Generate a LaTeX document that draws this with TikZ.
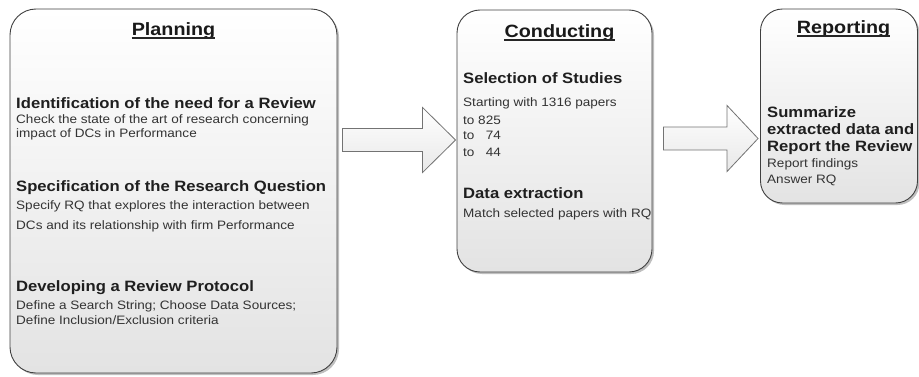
\documentclass[tikz,border=0pt]{standalone}
\usepackage{fontspec}
\setmainfont{Liberation Sans}
\newfontfamily\hf[FakeStretch=1.11]{Liberation Sans}
\usetikzlibrary{shadows,calc}

\begin{document}
\begin{tikzpicture}[x=1pt,y=1pt,
  phase/.style={draw=black!75, line width=0.9pt, rounded corners=26pt, top color=white, bottom color=black!11,
    drop shadow={shadow xshift=2pt, shadow yshift=-2pt, opacity=0.25, fill=black}, inner sep=0pt},
  ttl/.style={font=\hf\bfseries\fontsize{17.8}{20}\selectfont, inner sep=0pt, anchor=base, text=black!90},
  hd/.style={font=\hf\bfseries\fontsize{15}{17}\selectfont, inner sep=0pt, anchor=base west, text=black!88},
  bd/.style={font=\hf\fontsize{12.2}{14}\selectfont, inner sep=0pt, anchor=base west, text=black!80},
  uline/.style={line width=1.1pt, black!85},
  blk/.style={draw=black!55, line width=0.8pt, top color=white, bottom color=black!9, line join=miter}]
\useasboundingbox (0,0) rectangle (919,376);

% phase boxes
\node[phase, minimum width=327pt, minimum height=364pt] (planning) at (173.5,185) {};
\node[phase, minimum width=195pt, minimum height=262pt, rounded corners=23pt] (conducting) at (554.5,235) {};
\node[phase, minimum width=157pt, minimum height=194pt, rounded corners=22pt] (reporting) at (839,270) {};

% titles
\node[ttl] (t1) at (173.5,341) {Planning};
\node[ttl] (t2) at (559.5,339) {Conducting};
\node[ttl] (t3) at (843.5,343) {Reporting};
\foreach \t in {t1,t2,t3}{\draw[uline] ($(\t.base west)+(0,-3)$) -- ($(\t.base east)+(0,-3)$);}

% planning text
\node[hd] (p1) at (16,268) {Identification of the need for a Review};
\node[bd] (p1a) at (16,253) {Check the state of the art of research concerning};
\node[bd] (p1b) at (16,239) {impact of DCs in Performance};
\node[hd] (p2) at (16,185) {Specification of the Research Question};
\node[bd] (p2a) at (16,167) {Specify RQ that explores the interaction between};
\node[bd] (p2b) at (16,147) {DCs and its relationship with firm Performance};
\node[hd] (p3) at (16,85) {Developing a Review Protocol};
\node[bd] (p3a) at (16,67) {Define a Search String; Choose Data Sources;};
\node[bd] (p3b) at (16,52) {Define Inclusion/Exclusion criteria};

% conducting text
\node[hd] (c1) at (463,293) {Selection of Studies};
\node[bd] (c1a) at (463,270) {Starting with 1316 papers};
\node[bd] (c1b) at (463,252) {to 825};
\node[bd] (c1c) at (463,237) {to \phantom{8}74};
\node[bd] (c1d) at (463,220) {to \phantom{8}44};
\node[hd] (c2) at (463,178) {Data extraction};
\node[bd] (c2a) at (463,159) {Match selected papers with RQ};

% reporting text
\node[hd] (r1) at (767,259) {Summarize};
\node[hd] (r2) at (767,242) {extracted data and};
\node[hd] (r3) at (767,225) {Report the Review};
\node[bd] (r4) at (767,209) {Report findings};
\node[bd] (r5) at (767,193) {Answer RQ};

% block arrows
\coordinate (a1t) at ($(planning.east |- 0,236)+(5,0)$);
\coordinate (a1h) at ($(conducting.west |- 0,236)+(-1,0)$);
\draw[blk] ($(a1t)+(0,11.5)$) -- ($(a1h)+(-33,11.5)$) -- ($(a1h)+(-33,32.5)$) -- (a1h)
  -- ($(a1h)+(-33,-32.5)$) -- ($(a1h)+(-33,-11.5)$) -- ($(a1t)+(0,-11.5)$) -- cycle;
\coordinate (a2t) at ($(conducting.east |- 0,237.5)+(11,0)$);
\coordinate (a2h) at ($(reporting.west |- 0,237.5)+(-2,0)$);
\draw[blk] ($(a2t)+(0,11.5)$) -- ($(a2h)+(-31,11.5)$) -- ($(a2h)+(-31,33)$) -- (a2h)
  -- ($(a2h)+(-31,-33)$) -- ($(a2h)+(-31,-11.5)$) -- ($(a2t)+(0,-11.5)$) -- cycle;
\end{tikzpicture}
\end{document}
